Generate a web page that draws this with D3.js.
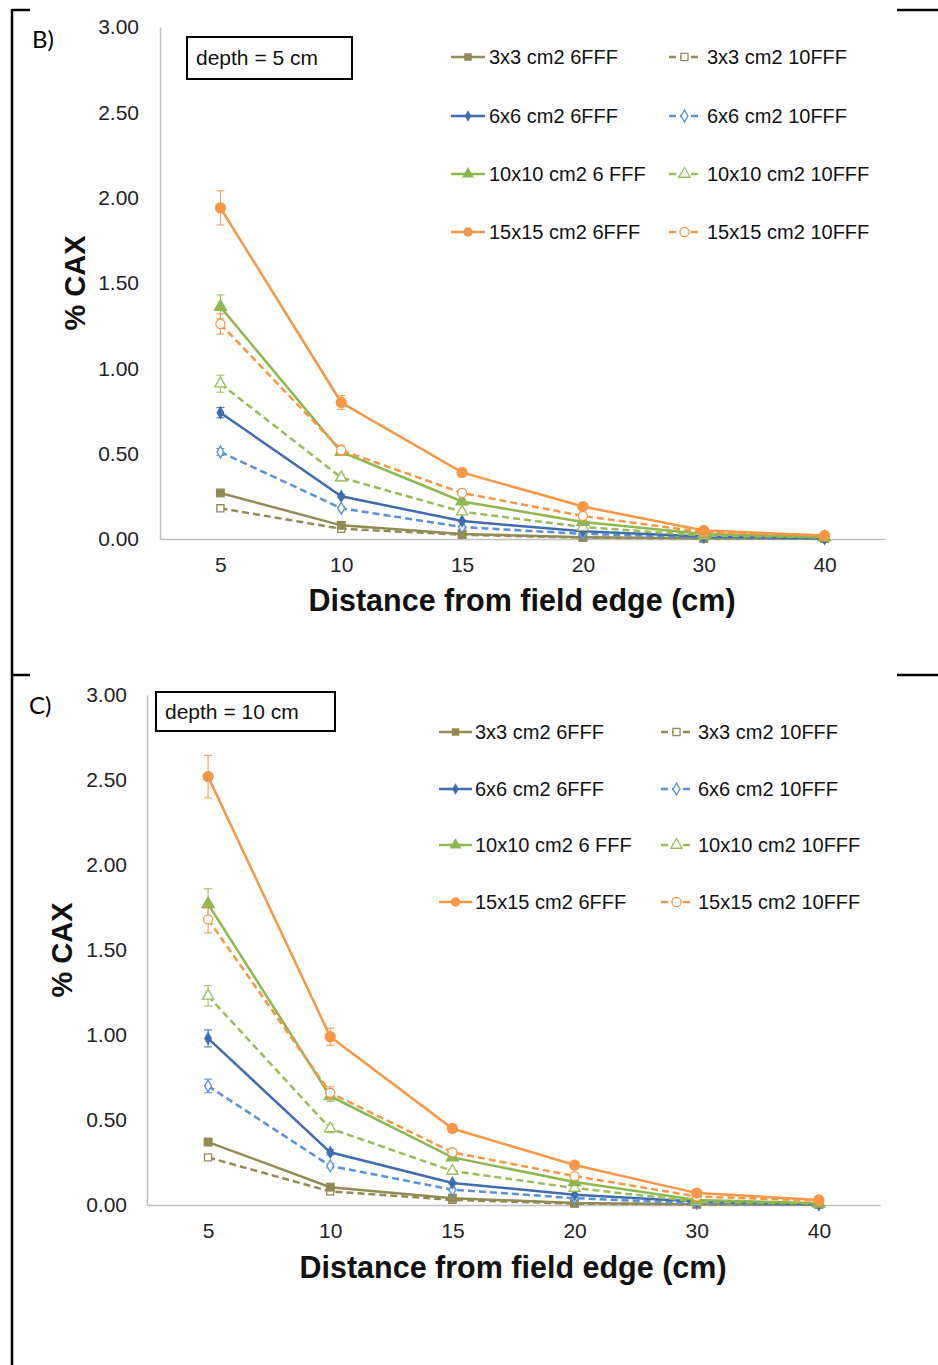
<!DOCTYPE html>
<html>
<head>
<meta charset="utf-8">
<script src="https://cdn.jsdelivr.net/npm/d3@7"></script>
<style>
  body { margin: 0; background: #fff; }
  svg { display: block; }
</style>
</head>
<body>
<svg id="fig" width="938" height="1365"></svg>
<script>
// distances (categorical x axis)
const distances = ["5", "10", "15", "20", "30", "40"];
const yTicks = [0, 0.5, 1, 1.5, 2, 2.5, 3];

// series labels, in legend order (solid 6FFF / dashed 10FFF per field size)
const series6 = ["3x3 cm2 6FFF", "6x6 cm2 6FFF", "10x10 cm2 6 FFF", "15x15 cm2 6FFF"];
const series10 = ["3x3 cm2 10FFF", "6x6 cm2 10FFF", "10x10 cm2 10FFF", "15x15 cm2 10FFF"];

// depth = 5 cm, % CAX
const b_3x3_6 = [0.27, 0.08, 0.03, 0.01, 0.005, 0.003];
const b_3x3_10 = [0.18, 0.06, 0.025, 0.008, 0.003, 0.002];
const b_6x6_6 = [0.74, 0.25, 0.105, 0.045, 0.015, 0.005];
const b_6x6_10 = [0.51, 0.18, 0.07, 0.03, 0.01, 0.003];
const b_10x10_6 = [1.36, 0.51, 0.22, 0.10, 0.03, 0.01];
const b_10x10_10 = [0.91, 0.36, 0.16, 0.07, 0.02, 0.01];
const b_15x15_6 = [1.94, 0.80, 0.39, 0.19, 0.05, 0.02];
const b_15x15_10 = [1.26, 0.52, 0.27, 0.135, 0.04, 0.02];
// error bars (+/-)
const be_3x3_6 = [0.01, 0.005, 0.002, 0.001, 0.001, 0.001];
const be_3x3_10 = [0.01, 0.004, 0.002, 0.001, 0.001, 0.001];
const be_6x6_6 = [0.03, 0.01, 0.005, 0.002, 0.001, 0.001];
const be_6x6_10 = [0.02, 0.01, 0.004, 0.002, 0.001, 0.001];
const be_10x10_6 = [0.07, 0.02, 0.01, 0.005, 0.002, 0.001];
const be_10x10_10 = [0.05, 0.02, 0.008, 0.004, 0.001, 0.001];
const be_15x15_6 = [0.10, 0.04, 0.015, 0.01, 0.003, 0.001];
const be_15x15_10 = [0.06, 0.03, 0.012, 0.008, 0.002, 0.001];

// depth = 10 cm, % CAX
const c_3x3_6 = [0.37, 0.105, 0.04, 0.012, 0.005, 0.002];
const c_3x3_10 = [0.28, 0.08, 0.03, 0.008, 0.003, 0.002];
const c_6x6_6 = [0.98, 0.31, 0.13, 0.06, 0.02, 0.005];
const c_6x6_10 = [0.70, 0.23, 0.09, 0.04, 0.01, 0.003];
const c_10x10_6 = [1.77, 0.64, 0.28, 0.135, 0.03, 0.01];
const c_10x10_10 = [1.23, 0.45, 0.20, 0.10, 0.02, 0.008];
const c_15x15_6 = [2.52, 0.99, 0.45, 0.235, 0.07, 0.03];
const c_15x15_10 = [1.68, 0.66, 0.31, 0.17, 0.05, 0.025];
const ce_3x3_6 = [0.015, 0.006, 0.002, 0.001, 0.001, 0.001];
const ce_3x3_10 = [0.012, 0.005, 0.002, 0.001, 0.001, 0.001];
const ce_6x6_6 = [0.05, 0.015, 0.006, 0.003, 0.001, 0.001];
const ce_6x6_10 = [0.04, 0.012, 0.005, 0.002, 0.001, 0.001];
const ce_10x10_6 = [0.09, 0.03, 0.012, 0.006, 0.002, 0.001];
const ce_10x10_10 = [0.06, 0.025, 0.01, 0.005, 0.001, 0.001];
const ce_15x15_6 = [0.125, 0.05, 0.02, 0.012, 0.004, 0.002];
const ce_15x15_10 = [0.08, 0.035, 0.015, 0.009, 0.003, 0.001];

// styles per field size
const colors6 = ["#948A54", "#3F6DB0", "#8DB84F", "#F79646"];
const colors10 = ["#948A54", "#5A90D8", "#9BBB59", "#F79646"];
const symbols = [d3.symbolSquare, d3.symbolDiamond, d3.symbolTriangle, d3.symbolCircle];
const symSize6 = [80, 55, 90, 100];
const symSize10 = [50, 40, 55, 65];

const svg = d3.select("#fig");

// frame lines of the surrounding table
svg.append("line").attr("x1", 12).attr("x2", 12).attr("y1", 9).attr("y2", 1365)
   .attr("stroke", "#000").attr("stroke-width", 2.5);
[[12, 30, 10], [897, 938, 10], [12, 30, 675], [897, 938, 675]].forEach(function(s) {
  svg.append("line").attr("x1", s[0]).attr("x2", s[1]).attr("y1", s[2]).attr("y2", s[2])
     .attr("stroke", "#000").attr("stroke-width", 2.5);
});

function drawPanel(p) {
  const g = svg.append("g");
  const x = d3.scalePoint().domain(distances).range([p.x0, p.x1]).padding(0.5);
  const y = d3.scaleLinear().domain([0, 3]).range([p.yb, p.yt]);

  // y axis
  const ya = g.append("g").attr("transform", "translate(" + p.x0 + ",0)")
    .call(d3.axisLeft(y).tickValues(yTicks).tickSize(0).tickPadding(p.x0 - p.ytx)
      .tickFormat(d3.format(".2f")));
  ya.select(".domain").attr("stroke", "#bfbfbf").attr("stroke-width", 1.5);
  ya.selectAll("text").attr("font-family", "Liberation Sans, Arial").attr("font-size", 21)
    .attr("fill", "#222");

  // x axis
  const xa = g.append("g").attr("transform", "translate(0," + p.yb + ")")
    .call(d3.axisBottom(x).tickSize(0).tickSizeOuter(0).tickPadding(p.xtPad));
  xa.select(".domain").attr("stroke", "#bfbfbf").attr("stroke-width", 1.5);
  xa.selectAll("text").attr("font-family", "Liberation Sans, Arial").attr("font-size", 21)
    .attr("fill", "#222");

  // axis titles
  g.append("text").attr("x", p.xTitleX).attr("y", p.xTitleY)
    .attr("text-anchor", "middle").attr("font-family", "Liberation Sans, Arial")
    .attr("font-weight", "bold").attr("font-size", 30.5).attr("fill", "#111")
    .text("Distance from field edge (cm)");
  g.append("text").attr("transform", "translate(" + p.yTitleX + "," + ((p.yt + p.yb) / 2) + ") rotate(-90)")
    .attr("text-anchor", "middle").attr("font-family", "Liberation Sans, Arial")
    .attr("font-weight", "bold").attr("font-size", 29).attr("fill", "#111")
    .text("% CAX");

  // panel letter
  g.append("text").attr("x", p.letterX).attr("y", p.letterY)
    .attr("font-family", "Lato, Open Sans").attr("font-size", 24).attr("fill", "#000")
    .text(p.letter);

  // depth box
  g.append("rect").attr("x", p.box[0]).attr("y", p.box[1]).attr("width", p.box[2]).attr("height", p.box[3])
    .attr("fill", "#fff").attr("stroke", "#000").attr("stroke-width", 2);
  g.append("text").attr("x", p.box[0] + 9).attr("y", p.box[1] + p.box[3] / 2 + 7)
    .attr("font-family", "Liberation Sans, Arial").attr("font-size", 21).attr("fill", "#111")
    .text(p.depth);

  const line = d3.line().x(function(d, i) { return x(distances[i]); }).y(function(d) { return y(d); });

  function drawSeries(vals, errs, color, sym, size, dashed) {
    const s = g.append("g");
    s.append("path").datum(vals).attr("d", line).attr("fill", "none")
      .attr("stroke", color).attr("stroke-width", 2.5)
      .attr("stroke-dasharray", dashed ? "7,4" : null);
    vals.forEach(function(v, i) {
      const cx = x(distances[i]);
      const e = errs[i];
      s.append("line").attr("x1", cx).attr("x2", cx).attr("y1", y(v - e)).attr("y2", y(v + e))
        .attr("stroke", color).attr("stroke-width", 1);
      [v - e, v + e].forEach(function(t) {
        s.append("line").attr("x1", cx - 4).attr("x2", cx + 4).attr("y1", y(t)).attr("y2", y(t))
          .attr("stroke", color).attr("stroke-width", 1);
      });
      s.append("path").attr("d", d3.symbol().type(sym).size(size)())
        .attr("transform", "translate(" + cx + "," + y(v) + ")")
        .attr("fill", dashed ? "#fff" : color).attr("stroke", color).attr("stroke-width", dashed ? 1.3 : 0);
    });
  }

  for (let k = 0; k < 4; k++) {
    drawSeries(p.vals10[k], p.errs10[k], colors10[k], symbols[k], symSize10[k], true);
    drawSeries(p.vals6[k], p.errs6[k], colors6[k], symbols[k], symSize6[k], false);
  }

  // legend
  for (let k = 0; k < 4; k++) {
    const ly = p.legRows[k];
    const a = p.legCols[0], b = p.legCols[1];
    g.append("line").attr("x1", a[0]).attr("x2", a[1]).attr("y1", ly).attr("y2", ly)
      .attr("stroke", colors6[k]).attr("stroke-width", 2.5);
    g.append("path").attr("d", d3.symbol().type(symbols[k]).size(symSize6[k] * 0.7)())
      .attr("transform", "translate(" + ((a[0] + a[1]) / 2) + "," + ly + ")").attr("fill", colors6[k]);
    g.append("text").attr("x", a[2]).attr("y", ly + 7).attr("font-family", "Liberation Sans, Arial")
      .attr("font-size", 20).attr("fill", "#111").text(series6[k]);

    g.append("line").attr("x1", b[0]).attr("x2", b[1]).attr("y1", ly).attr("y2", ly)
      .attr("stroke", colors10[k]).attr("stroke-width", 2.3).attr("stroke-dasharray", "7,4");
    g.append("path").attr("d", d3.symbol().type(symbols[k]).size(symSize10[k])())
      .attr("transform", "translate(" + ((b[0] + b[1]) / 2) + "," + ly + ")")
      .attr("fill", "#fff").attr("stroke", colors10[k]).attr("stroke-width", 1.3);
    g.append("text").attr("x", b[2]).attr("y", ly + 7).attr("font-family", "Liberation Sans, Arial")
      .attr("font-size", 20).attr("fill", "#111").text(series10[k]);
  }
}

drawPanel({
  letter: "B)", letterX: 32, letterY: 48, depth: "depth = 5 cm", box: [187, 37, 165, 42],
  x0: 160, x1: 885, yt: 27, yb: 539, ytx: 139, xtPad: 18, xTitleX: 522, xTitleY: 611, yTitleX: 85,
  legRows: [57, 116, 174, 232], legCols: [[451, 485, 489], [669, 700, 707]],
  vals6: [b_3x3_6, b_6x6_6, b_10x10_6, b_15x15_6],
  vals10: [b_3x3_10, b_6x6_10, b_10x10_10, b_15x15_10],
  errs6: [be_3x3_6, be_6x6_6, be_10x10_6, be_15x15_6],
  errs10: [be_3x3_10, be_6x6_10, be_10x10_10, be_15x15_10]
});

drawPanel({
  letter: "C)", letterX: 29, letterY: 714, depth: "depth = 10 cm", box: [156, 692, 179, 39],
  x0: 147, x1: 880, yt: 695, yb: 1205, ytx: 127, xtPad: 18, xTitleX: 513, xTitleY: 1278, yTitleX: 72,
  legRows: [732, 789, 845, 902], legCols: [[439, 472, 475], [661, 692, 698]],
  vals6: [c_3x3_6, c_6x6_6, c_10x10_6, c_15x15_6],
  vals10: [c_3x3_10, c_6x6_10, c_10x10_10, c_15x15_10],
  errs6: [ce_3x3_6, ce_6x6_6, ce_10x10_6, ce_15x15_6],
  errs10: [ce_3x3_10, ce_6x6_10, ce_10x10_10, ce_15x15_10]
});
</script>
</body>
</html>
